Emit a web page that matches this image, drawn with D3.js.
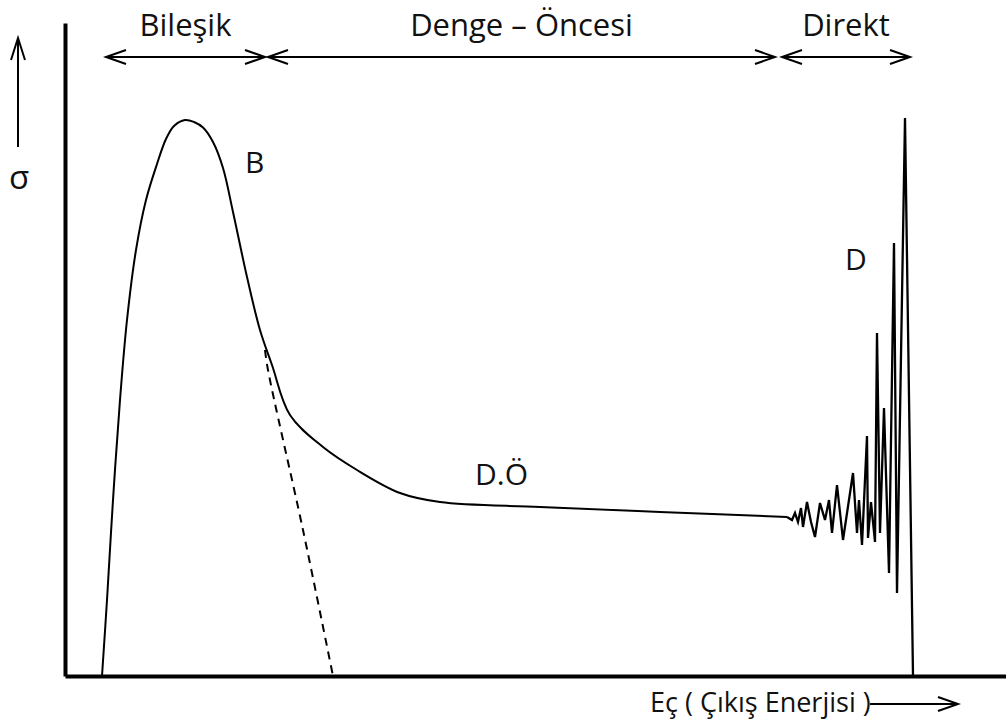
<!DOCTYPE html>
<html>
<head>
<meta charset="utf-8">
<script src="https://cdn.jsdelivr.net/npm/d3@7"></script>
<style>
  body { margin: 0; background: #fff; }
  text { font-family: "Open Sans", "Noto Sans", sans-serif; fill: #111; }
</style>
</head>
<body>
<svg id="chart"></svg>
<script>
var width = 1006, height = 722;

// smooth part: compound peak + pre-equilibrium tail (E, sigma)
var smoothE = [3.7, 4.2, 4.8, 5.5, 6.2, 7.1, 8.1, 9.2, 10.1, 10.9, 12.0, 12.9, 13.8, 14.8, 15.8, 16.8, 18.2, 19.5, 20.7, 22.5, 25.8, 29.2, 33.5, 37.5, 47.5, 59.5, 72.2];
var smoothS = [0, 7.6, 17.6, 27.6, 35.6, 42.6, 47.6, 51.2, 53.7, 55.0, 55.6, 55.4, 54.85, 53.4, 50.8, 46.4, 39.9, 34.6, 31.1, 26.1, 22.9, 20.6, 18.3, 17.4, 16.9, 16.4, 15.9];

// direct part: noisy spikes
var directE = [72.2, 72.7, 73.0, 73.3, 73.6, 73.8, 74.2, 74.6, 75.0, 75.5, 76.0, 76.4, 76.7, 77.2, 77.8, 78.8, 79.2, 79.4, 79.7, 80.2, 80.3, 80.6, 81.0, 81.2, 81.5, 81.9, 82.4, 82.9, 83.2, 84.0, 84.8];
var directS = [15.9, 15.6, 16.3, 15.4, 16.8, 14.9, 17.4, 15.4, 13.9, 17.3, 15.6, 17.6, 14.3, 19.1, 13.6, 20.3, 14.3, 17.6, 13.1, 24.0, 13.8, 17.4, 13.4, 34.3, 14.3, 26.8, 10.3, 43.3, 8.3, 55.8, 0];

// dashed continuation of the compound peak
var dashE = [20.0, 20.3, 23.8, 26.8];
var dashS = [32.6, 30.6, 14.6, 0];

// region names and their energy spans
var regionNames = ["Bileşik", "Denge – Öncesi", "Direkt"];
var regionFrom = [4.1, 20.3, 71.7];
var regionTo = [20.0, 71.0, 84.5];

var pointLabels = ["B", "D.Ö", "D"];
var pointLabelE = [18.0, 41.0, 78.0];
var pointLabelS = [50.3, 19.1, 40.6];

var svg = d3.select("#chart").attr("width", width).attr("height", height);

var x = d3.scaleLinear().domain([0, 94.1]).range([65, 1006]);
var y = d3.scaleLinear().domain([0, 65.3]).range([676, 23]);

// axes, no ticks
svg.append("g")
    .attr("transform", "translate(0," + y(0) + ")")
    .call(d3.axisBottom(x).ticks(0).tickSizeOuter(0))
    .select(".domain").attr("stroke", "#000").attr("stroke-width", 4);
svg.append("g")
    .attr("transform", "translate(" + x(0) + ",0)")
    .call(d3.axisLeft(y).ticks(0).tickSizeOuter(0))
    .select(".domain").attr("stroke", "#000").attr("stroke-width", 4);

var smooth = d3.line()
    .x(function(d) { return x(d[0]); })
    .y(function(d) { return y(d[1]); })
    .curve(d3.curveCatmullRom.alpha(0.5));
var straight = d3.line()
    .x(function(d) { return x(d[0]); })
    .y(function(d) { return y(d[1]); });

svg.append("path")
    .attr("d", smooth(d3.zip(smoothE, smoothS)))
    .attr("fill", "none").attr("stroke", "#000").attr("stroke-width", 2);
svg.append("path")
    .attr("d", straight(d3.zip(directE, directS)))
    .attr("fill", "none").attr("stroke", "#000").attr("stroke-width", 2.3)
    .attr("stroke-linejoin", "miter");
svg.append("path")
    .attr("d", smooth(d3.zip(dashE, dashS)))
    .attr("fill", "none").attr("stroke", "#000").attr("stroke-width", 2)
    .attr("stroke-dasharray", "8,6");

// open chevron arrow head, tip at (tx,ty), pointing in dir (+1 right, -1 left)
function chevronH(g, tx, ty, dir) {
    g.append("path")
        .attr("d", "M" + (tx - dir * 20) + "," + (ty - 7) + "L" + tx + "," + ty + "L" + (tx - dir * 20) + "," + (ty + 7))
        .attr("fill", "none").attr("stroke", "#000").attr("stroke-width", 2);
}

var arrowY = 57;
var regions = svg.append("g").attr("class", "regions");
regionNames.forEach(function(name, i) {
    var x1 = x(regionFrom[i]), x2 = x(regionTo[i]);
    regions.append("line")
        .attr("x1", x1).attr("x2", x2)
        .attr("y1", arrowY).attr("y2", arrowY)
        .attr("stroke", "#000").attr("stroke-width", 2);
    chevronH(regions, x1, arrowY, -1);
    chevronH(regions, x2, arrowY, 1);
    regions.append("text")
        .attr("x", (x1 + x2) / 2)
        .attr("y", 36)
        .attr("text-anchor", "middle")
        .attr("font-size", 31)
        .text(name);
});

svg.selectAll(".plabel")
    .data(pointLabels)
    .enter().append("text")
    .attr("class", "plabel")
    .attr("x", function(d, i) { return x(pointLabelE[i]); })
    .attr("y", function(d, i) { return y(pointLabelS[i]); })
    .attr("font-size", 30)
    .text(function(d) { return d; });

// sigma label with up arrow
svg.append("text")
    .attr("x", 19).attr("y", 189)
    .attr("text-anchor", "middle")
    .attr("font-size", 33)
    .text("σ");
svg.append("line")
    .attr("x1", 18).attr("x2", 18).attr("y1", 147).attr("y2", 38)
    .attr("stroke", "#000").attr("stroke-width", 2);
svg.append("path")
    .attr("d", "M11,60L18,38L25,60")
    .attr("fill", "none").attr("stroke", "#000").attr("stroke-width", 2);

// x label with right arrow
svg.append("text")
    .attr("x", 650).attr("y", 712)
    .attr("font-size", 27)
    .text("Eç ( Çıkış Enerjisi )");
svg.append("line")
    .attr("x1", 870).attr("x2", 957).attr("y1", 704).attr("y2", 704)
    .attr("stroke", "#000").attr("stroke-width", 2);
chevronH(svg, 958, 704, 1);
</script>
</body>
</html>
